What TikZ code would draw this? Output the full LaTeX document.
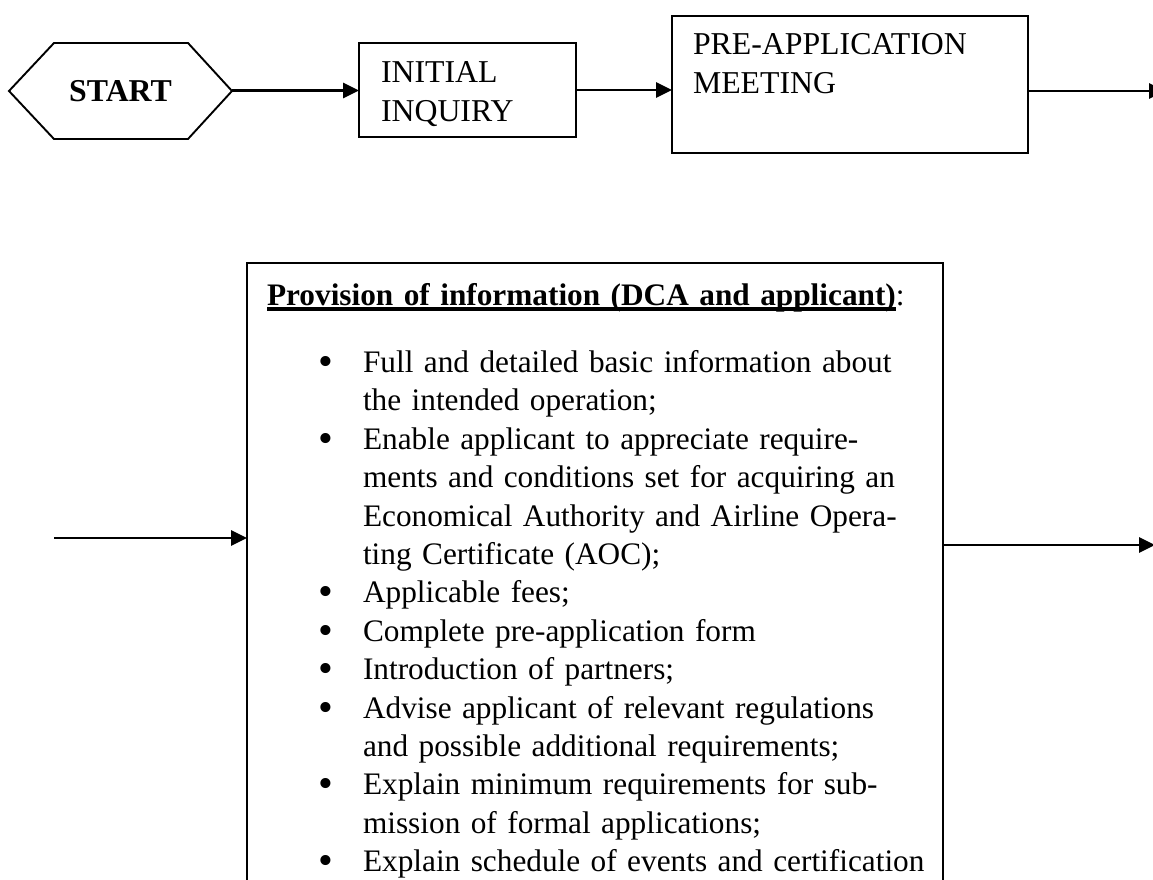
\documentclass[tikz,border=0pt]{standalone}
\usepackage{fontspec}
\setmainfont{Liberation Serif}
\usetikzlibrary{arrows.meta, positioning}
\newcommand{\thickul}[1]{\setbox0\hbox{#1}\rlap{\vrule height -2pt depth 5.5pt width \wd0}\box0}
\newcommand{\bitem}{\hspace*{51pt}\makebox[45pt][l]{\raisebox{-3pt}{\scalebox{1.35}{\textbullet}}}}
\newcommand{\bcont}{\hspace*{96pt}}

\begin{document}
\begin{tikzpicture}[x=1pt, y=-1pt, >={Triangle[length=16pt,width=15pt]}]
 % We define the styles for the blocks and the arrows
 \tikzset{
block/.style = {draw, rectangle, line width=1.9pt, inner ysep=0pt, outer sep=0pt, align=left, anchor=north west, font=\fontsize{31.8}{38.5}\selectfont},
line/.style = {draw, ->, line width=2.7pt},
}
 \useasboundingbox (0,0) rectangle (1153,880);
 \clip (0,0) rectangle (1153,880);

 % Start hexagon
 \draw[line width=1.9pt] (9,91) -- (54,43) -- (188,43) -- (232,91) -- (188,139) -- (54,139) -- cycle;
 \node[font=\fontsize{31.8}{38.5}\selectfont\bfseries] (start) at (120.5,91) {START};
 \coordinate (startE) at (232,90.5);

 % Initial inquiry block
 \node[block, inner xsep=22pt, text width=173pt, text height=40pt, text depth=54pt] (inquiry) at (359,43) {INITIAL\\INQUIRY};

 % Pre-application meeting block
 \node[block, inner xsep=21pt, text width=314pt, text height=39pt, text depth=98pt] (meeting) at (672,16) {PRE-APPLICATION\\MEETING};

 % Provision of information block
 \node[block, font=\fontsize{31.3}{38.4}\selectfont, inner xsep=20pt, text width=656pt, text height=42pt, text depth=600pt] (info) at (247,263) {%
  \thickul{\textbf{Provision of information (DCA and applicant)}}:\\[29pt]
  \bitem Full and detailed basic information about\\
  \bcont the intended operation;\\
  \bitem Enable applicant to appreciate require-\\
  \bcont ments and conditions set for acquiring an\\
  \bcont Economical Authority and Airline Opera-\\
  \bcont ting Certificate (AOC);\\
  \bitem Applicable fees;\\
  \bitem Complete pre-application form\\
  \bitem Introduction of partners;\\
  \bitem Advise applicant of relevant regulations\\
  \bcont and possible additional requirements;\\
  \bitem Explain minimum requirements for sub-\\
  \bcont mission of formal applications;\\
  \bitem \mbox{Explain schedule of events and certification}};

 % Free ends of the arrows
 \coordinate (next) at (1165,91);
 \coordinate (infoIn) at (54,538);
 \coordinate (infoOut) at (1155,545);

 % Arrows
 \draw [line] (startE) -- (startE -| inquiry.west);
 \draw [line] (inquiry.east) -- (inquiry.east -| meeting.west);
 \draw [line] (meeting.east |- next) -- (next);
 \draw [line] (infoIn) -- (infoIn -| info.west);
 \draw [line] (info.east |- infoOut) -- (infoOut);
\end{tikzpicture}
\end{document}
